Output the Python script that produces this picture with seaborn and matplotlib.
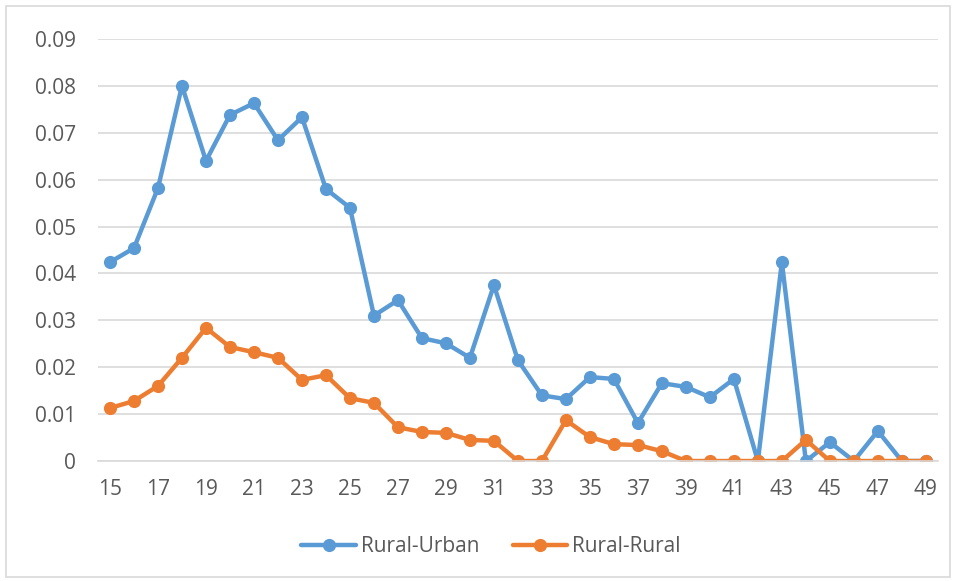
import numpy as np
import pandas as pd
import seaborn as sns
import matplotlib.pyplot as plt
import matplotlib.patches as patches

# Data
ages = list(range(15, 50))
rural_urban = [0.0424, 0.0454, 0.0582, 0.0800, 0.0640, 0.0738, 0.0763, 0.0684, 0.0733, 0.0580,
               0.0540, 0.0310, 0.0343, 0.0262, 0.0251, 0.0220, 0.0375, 0.0215, 0.0140, 0.0132,
               0.0179, 0.0175, 0.0081, 0.0166, 0.0158, 0.0136, 0.0175, 0.0, 0.0424, 0.0,
               0.0040, 0.0, 0.0064, 0.0, 0.0]
rural_rural = [0.0113, 0.0128, 0.0160, 0.0220, 0.0284, 0.0243, 0.0232, 0.0220, 0.0173, 0.0183,
               0.0134, 0.0124, 0.0072, 0.0062, 0.0060, 0.0045, 0.0043, 0.0, 0.0, 0.0087,
               0.0051, 0.0036, 0.0034, 0.0021, 0.0, 0.0, 0.0, 0.0, 0.0, 0.0045,
               0.0, 0.0, 0.0, 0.0, 0.0]
series_names = ['Rural-Urban', 'Rural-Rural']
series_colors = {'Rural-Urban': '#5B9BD5', 'Rural-Rural': '#ED7D31'}
y_ticks = [0, 0.01, 0.02, 0.03, 0.04, 0.05, 0.06, 0.07, 0.08, 0.09]
y_labels = ['0', '0.01', '0.02', '0.03', '0.04', '0.05', '0.06', '0.07', '0.08', '0.09']

df = pd.DataFrame({'Age': ages * 2,
                   'Value': rural_urban + rural_rural,
                   'Series': ['Rural-Urban'] * len(ages) + ['Rural-Rural'] * len(ages)})

sns.set_style('white')
plt.rcParams['font.family'] = ['Open Sans', 'DejaVu Sans']

fig = plt.figure(figsize=(9.56, 5.81), dpi=100)
ax = fig.add_axes([0.1025, 0.2065, 0.8785, 0.7265])

sns.lineplot(data=df, x='Age', y='Value', hue='Series', hue_order=series_names,
             palette=series_colors, linewidth=3.2, marker='o', markersize=9.5,
             markeredgewidth=0, errorbar=None, ax=ax)

ax.set_xlim(14.5, 49.5)
ax.set_ylim(0, 0.09)
ax.set_xticks(range(15, 50, 2))
ax.set_yticks(y_ticks)
ax.set_yticklabels(y_labels)
ax.tick_params(axis='both', length=0, labelsize=15, labelcolor='#595959')
ax.tick_params(axis='y', pad=16)
ax.tick_params(axis='x', pad=13)
ax.grid(axis='y', color='#D9D9D9', linewidth=1.2)
ax.set_axisbelow(True)
for side in ['top', 'right', 'left']:
    ax.spines[side].set_visible(False)
ax.spines['bottom'].set_color('#D9D9D9')
ax.spines['bottom'].set_linewidth(1.2)
ax.set_xlabel(None)
ax.set_ylabel(None)

# legend sits centred on the chart area, a bit left of the plot centre
ax.legend(loc='center', bbox_to_anchor=(0.468, -0.203), ncol=2, frameon=False,
          fontsize=15, labelcolor='#595959', handlelength=2.6, handletextpad=0.25,
          columnspacing=1.6)

# thin outer frame like the Excel chart area
fig.patches.append(patches.Rectangle((6 / 956, 4 / 581), 944 / 956, 571 / 581,
                                     transform=fig.transFigure, fill=False,
                                     edgecolor='#D9D9D9', linewidth=1.2))

fig.savefig('out.png', dpi=100)
